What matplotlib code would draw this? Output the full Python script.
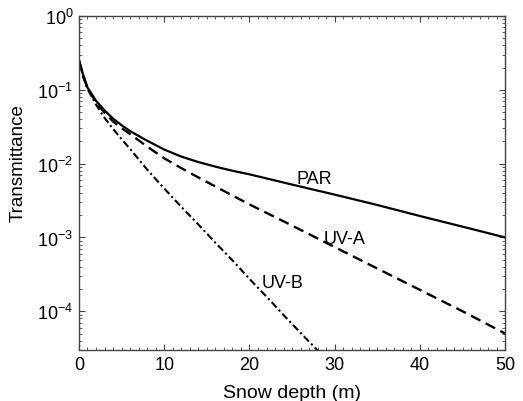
import matplotlib
matplotlib.use("Agg")
import matplotlib.pyplot as plt
from matplotlib.ticker import LogLocator, MultipleLocator, NullFormatter

plt.rcParams["font.family"] = ["Liberation Sans", "DejaVu Sans"]
plt.rcParams["mathtext.default"] = "regular"

# snow depth (m) and transmittance
depth = [0, 0.5, 1, 2, 3, 4, 5, 6, 8, 10, 12, 14, 16, 18, 20, 25, 30, 35, 40, 45, 50]
par = [0.251, 0.158, 0.107, 0.0708, 0.0525, 0.0407, 0.0331, 0.0275, 0.0204,
       0.0155, 0.01245, 0.0105, 0.0091, 0.0080, 0.00716, 0.0052, 0.0038,
       0.00275, 0.00195, 0.0014, 0.001]
uva = [0.251, 0.155, 0.105, 0.0676, 0.049, 0.0372, 0.0302, 0.0251, 0.0170,
       0.0118, 0.0087, 0.0065, 0.0049, 0.0037, 0.0028, 0.00145, 0.00074,
       0.00038, 0.000195, 0.0001, 0.00005]
depth_uvb = [0, 0.5, 1, 2, 3, 4, 5, 6, 8, 10, 12, 14, 16, 18, 20, 22, 24, 26, 28, 30]
uvb = [0.251, 0.148, 0.102, 0.063, 0.0417, 0.0295, 0.0214, 0.0158, 0.0083,
       0.0046, 0.0026, 0.0015, 0.00085, 0.00049, 0.000275, 0.000158,
       0.000089, 0.000051, 0.0000295, 0.0000166]

labels = ["PAR", "UV-A", "UV-B"]
label_pos = [(25.5, 5.4e-3), (28.7, 8.3e-4), (21.4, 2.15e-4)]

fig = plt.figure(figsize=(5.23, 4.02), dpi=100)
ax = fig.add_axes([0.151, 0.127, 0.815, 0.831])

ax.plot(depth, par, color="black", lw=1.6, ls="-")
ax.plot(depth, uva, color="black", lw=1.7, ls=(0, (4.5, 2.5)))
ax.plot(depth_uvb, uvb, color="black", lw=1.5, ls=(0, (3.5, 1.5, 1, 1.5)))

for text, (x, y) in zip(labels, label_pos):
    ax.text(x, y, text, fontsize=13, ha="left", va="baseline")

ax.set_yscale("log")
ax.set_xlim(0, 50)
ax.set_ylim(3e-5, 1)
ax.xaxis.set_major_locator(MultipleLocator(10))
ax.xaxis.set_minor_locator(MultipleLocator(1))
ax.yaxis.set_major_locator(LogLocator(base=10, numticks=10))
ax.yaxis.set_minor_locator(LogLocator(base=10, subs=range(2, 10), numticks=20))
ax.yaxis.set_minor_formatter(NullFormatter())

ax.tick_params(which="both", direction="in", top=True, right=True,
               colors="#444444", labelcolor="black", labelsize=13)
ax.tick_params(which="major", length=4, width=0.8, pad=4)
ax.tick_params(which="minor", length=2, width=0.6)
for sp in ax.spines.values():
    sp.set_color("#444444")
    sp.set_linewidth(1.0)

ax.set_xlabel("Snow depth (m)", fontsize=14, labelpad=8)
ax.set_ylabel("Transmittance", fontsize=13.5)
ax.yaxis.set_label_coords(-0.122, 0.563)

fig.savefig("out.png", dpi=100)
